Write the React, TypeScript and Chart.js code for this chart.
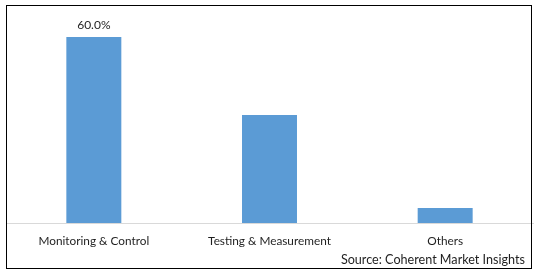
import React, { useEffect, useRef } from "react";
import { Chart, registerables } from "chart.js";

Chart.register(...registerables);

const categories = ["Monitoring & Control", "Testing & Measurement", "Others"];
const shares = [60, 34.8, 4.8];
const dataLabels = ["60.0%", "", ""];
const sourceText = "Source: Coherent Market Insights";

const FONT = "Lato";
const TEXT = "#1f1f1f";

const valueLabelPlugin = {
  id: "valueLabels",
  afterDatasetsDraw(chart: any) {
    const ctx = chart.ctx;
    const meta = chart.getDatasetMeta(0);
    ctx.save();
    ctx.font = `12px ${FONT}`;
    ctx.fillStyle = TEXT;
    ctx.textAlign = "center";
    ctx.textBaseline = "middle";
    meta.data.forEach((bar: any, i: number) => {
      const t = dataLabels[i];
      if (t) ctx.fillText(t, bar.x, bar.y - 12);
    });
    ctx.restore();
  },
};

export default function App() {
  const ref = useRef<HTMLCanvasElement>(null);
  useEffect(() => {
    document.body.style.margin = "0";
    const chart = new Chart(ref.current!, {
      type: "bar",
      data: {
        labels: categories,
        datasets: [
          {
            data: shares,
            backgroundColor: "#5B9BD5",
            borderWidth: 0,
            categoryPercentage: 1,
            barPercentage: 0.313,
          },
        ],
      },
      options: {
        responsive: false,
        animation: false,
        layout: { padding: { top: 6, left: 6, right: 5, bottom: 0 } },
        plugins: { legend: { display: false }, tooltip: { enabled: false } },
        scales: {
          y: { display: false, min: 0, max: 70 },
          x: {
            grid: { display: false, drawTicks: false, tickLength: 0 },
            border: { display: true, color: "#d9d9d9", width: 1 },
            ticks: {
              color: TEXT,
              font: { family: FONT, size: 11.8 },
              padding: 11,
              maxRotation: 0,
              autoSkip: false,
            },
            afterFit(scale: any) {
              scale.height = 49;
            },
          },
        },
      },
      plugins: [valueLabelPlugin],
    });
    return () => chart.destroy();
  }, []);

  return (
    <div style={{ position: "relative", width: 538, height: 272, background: "#fff" }}>
      <canvas ref={ref} width={538} height={272} style={{ position: "absolute", left: 0, top: 0 }} />
      <div
        style={{
          position: "absolute",
          left: 6,
          top: 5,
          width: 524,
          height: 262,
          border: "1px solid #000",
          pointerEvents: "none",
        }}
      />
      <div
        style={{
          position: "absolute",
          right: 13,
          top: 252,
          font: `12.6px ${FONT}`,
          color: TEXT,
          lineHeight: "15px",
          whiteSpace: "nowrap",
        }}
      >
        {sourceText}
      </div>
    </div>
  );
}
